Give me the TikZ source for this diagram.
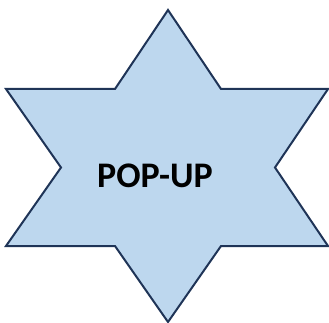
\documentclass[tikz,border=0pt]{standalone}
\usepackage{fontspec}
\setmainfont{Carlito}
\definecolor{starfill}{HTML}{BDD7EE}
\definecolor{starline}{HTML}{1F3457}
\tikzset{starshape/.style={fill=starfill, draw=starline, line width=2pt, line join=miter},
         lbl/.style={font=\bfseries\fontsize{36}{36}\selectfont, text=black, inner sep=0pt, anchor=base}}
\begin{document}
\begin{tikzpicture}[x=1pt,y=-1pt]
\useasboundingbox (0,0) rectangle (329,323);
\draw[starshape] (168,10) -- (221,89) -- (328,89) -- (275,167.5) -- (328,246) -- (221,246)
  -- (168,322) -- (115,246) -- (6,246) -- (61,167.5) -- (6,89) -- (115,89) -- cycle;
\node[lbl] (t) at (155,187) {POP-UP};
\end{tikzpicture}
\end{document}
